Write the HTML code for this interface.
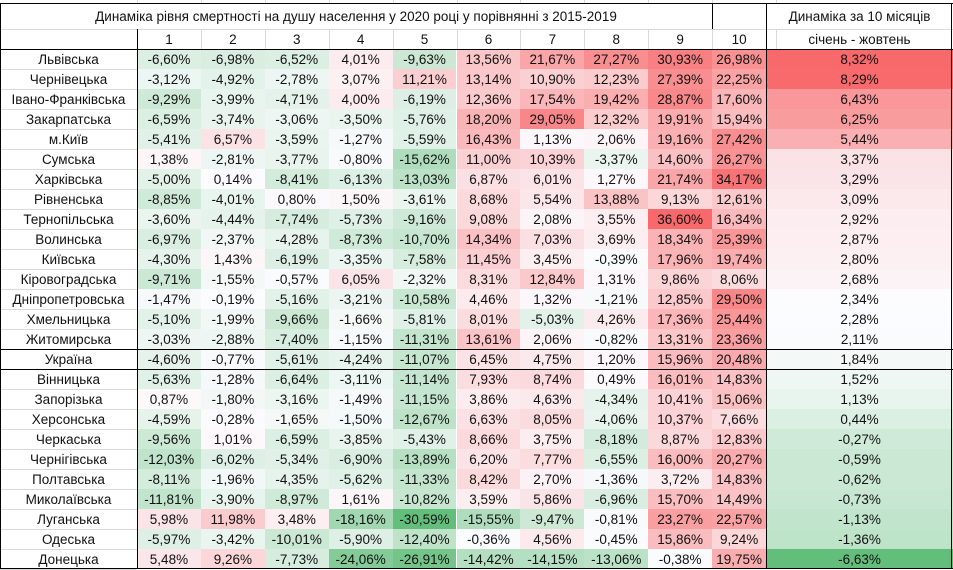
<!DOCTYPE html>
<html><head><meta charset="utf-8">
<style>
body{margin:0;width:953px;height:570px;background:#fff;position:relative;overflow:hidden;font-family:"Liberation Sans","DejaVu Sans",sans-serif;font-size:13.5px;color:#111}
.c{position:absolute;box-sizing:border-box;display:flex;align-items:center;justify-content:center;white-space:nowrap}
.ln{position:absolute;background:#000}
.gl{position:absolute;background:#d9d9d9}
</style></head><body>
<div id="t"></div>
<script>
const regions=["Львівська","Чернівецька","Івано-Франківська","Закарпатська","м.Київ","Сумська","Харківська","Рівненська","Тернопільська","Волинська","Київська","Кіровоградська","Дніпропетровська","Хмельницька","Житомирська","Україна","Вінницька","Запорізька","Херсонська","Черкаська","Чернігівська","Полтавська","Миколаївська","Луганська","Одеська","Донецька"];
const months=["1","2","3","4","5","6","7","8","9","10"];
const values=[
[-6.60,-6.98,-6.52,4.01,-9.63,13.56,21.67,27.27,30.93,26.98],
[-3.12,-4.92,-2.78,3.07,11.21,13.14,10.90,12.23,27.39,22.25],
[-9.29,-3.99,-4.71,4.00,-6.19,12.36,17.54,19.42,28.87,17.60],
[-6.59,-3.74,-3.06,-3.50,-5.76,18.20,29.05,12.32,19.91,15.94],
[-5.41,6.57,-3.59,-1.27,-5.59,16.43,1.13,2.06,19.16,27.42],
[1.38,-2.81,-3.77,-0.80,-15.62,11.00,10.39,-3.37,14.60,26.27],
[-5.00,0.14,-8.41,-6.13,-13.03,6.87,6.01,1.27,21.74,34.17],
[-8.85,-4.01,0.80,1.50,-3.61,8.68,5.54,13.88,9.13,12.61],
[-3.60,-4.44,-7.74,-5.73,-9.16,9.08,2.08,3.55,36.60,16.34],
[-6.97,-2.37,-4.28,-8.73,-10.70,14.34,7.03,3.69,18.34,25.39],
[-4.30,1.43,-6.19,-3.35,-7.58,11.45,3.45,-0.39,17.96,19.74],
[-9.71,-1.55,-0.57,6.05,-2.32,8.31,12.84,1.31,9.86,8.06],
[-1.47,-0.19,-5.16,-3.21,-10.58,4.46,1.32,-1.21,12.85,29.50],
[-5.10,-1.99,-9.66,-1.66,-5.81,8.01,-5.03,4.26,17.36,25.44],
[-3.03,-2.88,-7.40,-1.15,-11.31,13.61,2.06,-0.82,13.31,23.36],
[-4.60,-0.77,-5.61,-4.24,-11.07,6.45,4.75,1.20,15.96,20.48],
[-5.63,-1.28,-6.64,-3.11,-11.14,7.93,8.74,0.49,16.01,14.83],
[0.87,-1.80,-3.16,-1.49,-11.15,3.86,4.63,-4.34,10.41,15.06],
[-4.59,-0.28,-1.65,-1.50,-12.67,6.63,8.05,-4.06,10.37,7.66],
[-9.56,1.01,-6.59,-3.85,-5.43,8.66,3.75,-8.18,8.87,12.83],
[-12.03,-6.02,-5.34,-6.90,-13.89,6.20,7.77,-6.55,16.00,20.27],
[-8.11,-1.96,-4.35,-5.62,-11.33,8.42,2.70,-1.36,3.72,14.83],
[-11.81,-3.90,-8.97,1.61,-10.82,3.59,5.86,-6.96,15.70,14.49],
[5.98,11.98,3.48,-18.16,-30.59,-15.55,-9.47,-0.81,23.27,22.57],
[-5.97,-3.42,-10.01,-5.90,-12.40,-0.36,4.56,-0.45,15.86,9.24],
[5.48,9.26,-7.73,-24.06,-26.91,-14.42,-14.15,-13.06,-0.38,19.75]];
const totals=[8.32,8.29,6.43,6.25,5.44,3.37,3.29,3.09,2.92,2.87,2.80,2.68,2.34,2.28,2.11,1.84,1.52,1.13,0.44,-0.27,-0.59,-0.62,-0.73,-1.13,-1.36,-6.63];

const T=document.getElementById('t');
const colX=i=>137+i*63.9;
const rowY=r=>49+r*20;
const G=[99,190,123],W=[252,252,255],R=[248,105,107];
function mix(a,b,t){return 'rgb('+a.map((v,i)=>Math.round(v+(b[i]-v)*t)).join(',')+')';}
function scale(v,mn,md,mx){return v<md?mix(W,G,(md-v)/(md-mn)):mix(W,R,(v-md)/(mx-md));}
const flat=values.flat();
const gmin=Math.min(...flat),gmax=Math.max(...flat);
const sortedT=[...totals].sort((a,b)=>a-b);
const tmed=(sortedT[12]+sortedT[13])/2;
const tmin=Math.min(...totals),tmax=Math.max(...totals);
const fmt=v=>v.toFixed(2).replace('.',',')+'%';
function box(x,y,w,h,txt,bg,name){const d=document.createElement('div');d.className='c';d.style.cssText=`left:${x}px;top:${y}px;width:${w}px;height:${h}px;`+(bg?`background:${bg};`:'');d.textContent=txt;


T.appendChild(d);return d;}
function line(x,y,w,h,cls){const d=document.createElement('div');d.className=cls;d.style.cssText=`left:${x}px;top:${y}px;width:${w}px;height:${h}px`;


T.appendChild(d);}
box(0,3,712,26,'Динаміка рівня смертності на душу населення у 2020 році у порівнянні з 2015-2019',null,'table-title');
box(766,3,187,26,'Динаміка за 10 місяців',null,'total-title');
box(766,29,187,20,'січень - жовтень',null,'total-subtitle');
months.forEach((m,i)=>{box(colX(i),29,i==9?54:63.9,20,m,null,'month-header');});
regions.forEach((r,ri)=>{
  const y=rowY(ri);
  box(0,y,137,20,r,null,'region-label');
  values[ri].forEach((v,ci)=>{
    box(colX(ci),y,ci==9?54:63.9,20,fmt(v),scale(v,gmin,0,gmax),'heat-cell');
  });
  box(766,y,187,20,fmt(totals[ri]),scale(totals[ri],tmin,tmed,tmax),'total-cell');
  line(0,y+20,137,1,'gl');
});
for(let i=0;i<=10;i++){line(Math.round(colX(i)),29,1,20,'gl');line(Math.round(colX(i)),0,1,3,'gl');}
line(0,29,953,1,'gl');
line(0,3,953,1,'ln');
line(0,49,953,1,'ln');
line(0,349,953,1,'ln');
line(0,369,953,1,'ln');
line(0,568,953,1,'ln');
line(0,3,1,566,'ln');
line(137,29,1,540,'ln');
line(712,3,1,26,'ln');
line(766,3,1,566,'ln');
line(951,3,1,566,'ln');
</script>
</body></html>
